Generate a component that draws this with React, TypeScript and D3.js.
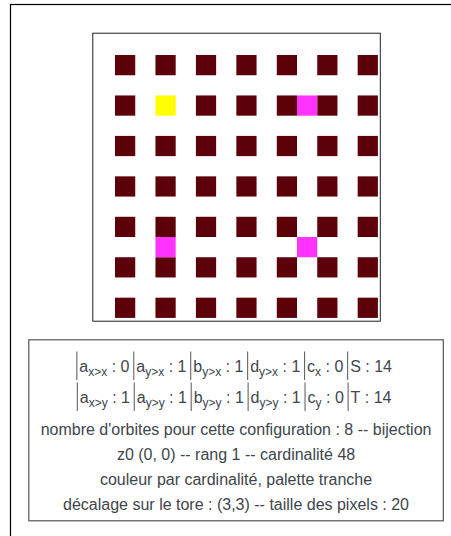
import React, { useMemo } from 'react';
import * as d3 from 'd3';

// ---- data ----
const orbitCols = [1, 3, 5, 7, 9, 11, 13];
const orbitRows = [1, 3, 5, 7, 9, 11, 13];
const startCell = { col: 3, row: 3 };
const otherOrbitCells = [
  { col: 10, row: 3 },
  { col: 3, row: 10 },
  { col: 10, row: 10 },
];
const gridSize = 14;

const paramsLineX = [
  ['a', 'x>x', '0'],
  ['a', 'y>x', '1'],
  ['b', 'y>x', '1'],
  ['d', 'y>x', '1'],
  ['c', 'x', '0'],
  ['S', '', '14'],
];
const paramsLineY = [
  ['a', 'x>y', '1'],
  ['a', 'y>y', '1'],
  ['b', 'y>y', '1'],
  ['d', 'y>y', '1'],
  ['c', 'y', '0'],
  ['T', '', '14'],
];
const infoLines = [
  "nombre d'orbites pour cette configuration : 8 -- bijection",
  'z0 (0, 0) -- rang 1 -- cardinalité 48',
  'couleur par cardinalité, palette tranche',
  'décalage sur le tore : (3,3) -- taille des pixels : 20',
];

const COL_DARK = '#5c0009';
const COL_START = '#ffff00';
const COL_ORBIT = '#ff33ff';
const TEXT_COL = '#40454c';
const FONT = '"Liberation Sans", Arial, Helvetica, sans-serif';

let ctx: CanvasRenderingContext2D | null = null;
function measure(t: string, size: number) {
  if (!ctx) ctx = document.createElement('canvas').getContext('2d');
  ctx!.font = `${size}px "Liberation Sans"`;
  return ctx!.measureText(t).width;
}

function MathLine({ items, baseline, cx }: { items: string[][]; baseline: number; cx: number }) {
  const fs = 16;
  const subFs = 12;
  const padL = 3;
  const padR = 3.8;
  const segs = items.map(([b, s, v]) => {
    const wb = measure(b, fs);
    const ws = s ? measure(s, subFs) : 0;
    const rest = ' : ' + v;
    const wr = measure(rest, fs);
    return { b, s, rest, wb, ws, wr, w: padL + wb + ws + wr + padR };
  });
  const total = d3.sum(segs, (d) => d.w);
  let x = cx - total / 2;
  const out: any[] = [];
  segs.forEach((sg, i) => {
    out.push(
      <line key={'b' + i} x1={x + 0.5} x2={x + 0.5} y1={baseline - 20} y2={baseline + 8.5} stroke="#555" strokeWidth={1} />
    );
    let tx = x + padL;
    out.push(
      <text key={'t' + i} x={tx} y={baseline} fontSize={fs} fill={TEXT_COL} fontFamily={FONT}>
        {sg.b}
      </text>
    );
    tx += sg.wb;
    if (sg.s) {
      out.push(
        <text key={'s' + i} x={tx} y={baseline + 4.6} fontSize={subFs} fill={TEXT_COL} fontFamily={FONT}>
          {sg.s}
        </text>
      );
      tx += sg.ws;
    }
    out.push(
      <text key={'r' + i} x={tx} y={baseline} fontSize={fs} fill={TEXT_COL} fontFamily={FONT} style={{ whiteSpace: 'pre' }}>
        {sg.rest}
      </text>
    );
    x += sg.w;
  });
  return <g>{out}</g>;
}

export default function App() {
  const W = 451;
  const H = 536;
  const x = useMemo(() => d3.scaleLinear().domain([0, gridSize]).range([94.8, 377.9]), []);
  const y = useMemo(() => d3.scaleLinear().domain([0, gridSize]).range([34.8, 317.9]), []);
  const cs = x(1) - x(0);

  const darkCells: { col: number; row: number }[] = [];
  orbitRows.forEach((r) =>
    orbitCols.forEach((c) => {
      if (!(c === startCell.col && r === startCell.row)) darkCells.push({ col: c, row: r });
    })
  );

  const boxCx = (28.8 + 443.3) / 2;
  const infoBaselines = [435, 460, 485, 510];

  return (
    <svg width={W} height={H} style={{ position: 'absolute', left: 0, top: 0 }} xmlns="http://www.w3.org/2000/svg">
      <rect x={0} y={0} width={W} height={H} fill="#fff" />
      {/* outer frame */}
      <rect x={10.5} y={4.5} width={600} height={700} fill="none" stroke="#000" strokeWidth={1.2} />
      {/* chart panel */}
      <rect x={92.8} y={33.2} width={287.5} height={288} fill="#fff" stroke="#222" strokeWidth={1} />
      {darkCells.map((d, i) => (
        <rect key={'d' + i} x={x(d.col)} y={y(d.row)} width={cs} height={cs} fill={COL_DARK} />
      ))}
      <rect x={x(startCell.col)} y={y(startCell.row)} width={cs} height={cs} fill={COL_START} />
      {otherOrbitCells.map((d, i) => (
        <rect key={'o' + i} x={x(d.col)} y={y(d.row)} width={cs} height={cs} fill={COL_ORBIT} />
      ))}
      {/* info box */}
      <rect x={28.8} y={339.8} width={414.5} height={181} fill="#fff" stroke="#555" strokeWidth={1.2} />
      <MathLine items={paramsLineX} baseline={371.5} cx={boxCx} />
      <MathLine items={paramsLineY} baseline={402.5} cx={boxCx} />
      {infoLines.map((t, i) => (
        <text key={'i' + i} x={boxCx} y={infoBaselines[i]} textAnchor="middle" fontSize={16} fill={TEXT_COL} fontFamily={FONT}>
          {t}
        </text>
      ))}
    </svg>
  );
}
